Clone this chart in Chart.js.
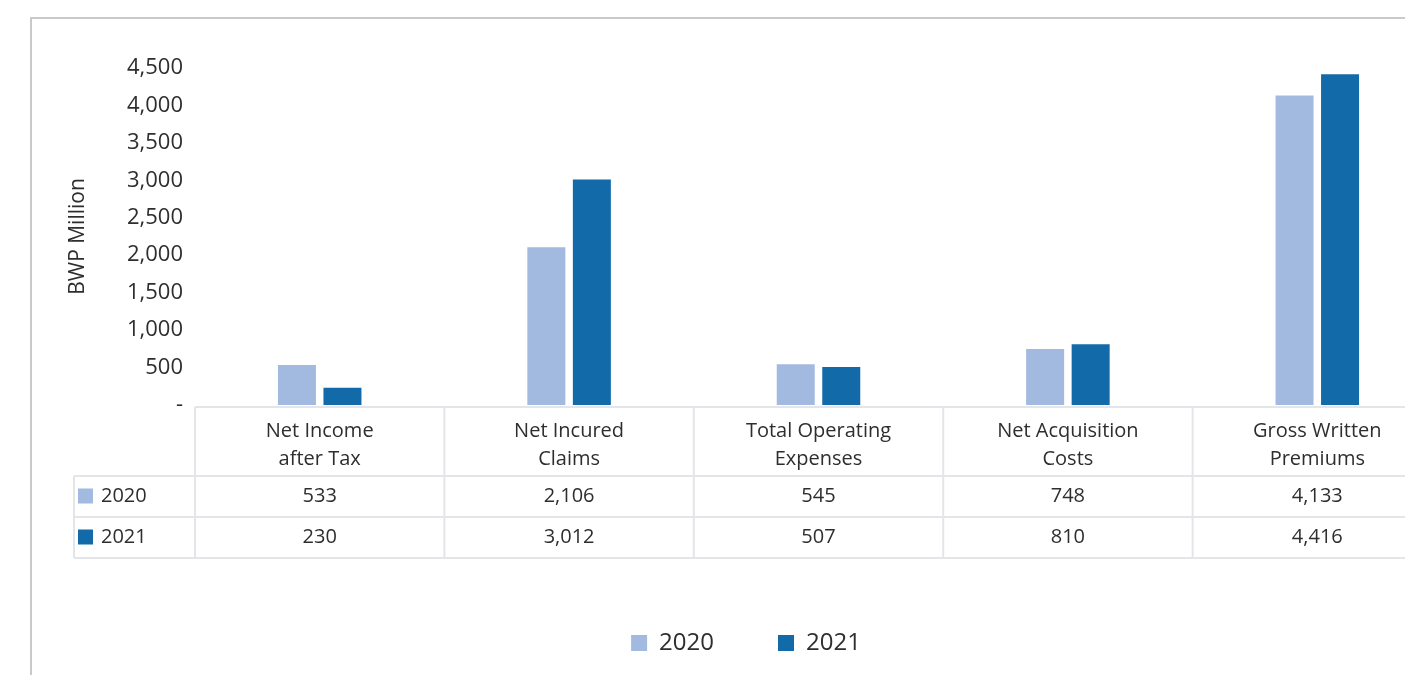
<!DOCTYPE html>
<html>
<head>
<meta charset="utf-8">
<title>Insurance results 2020 vs 2021</title>
<script src="https://cdn.jsdelivr.net/npm/chart.js@4.4.1/dist/chart.umd.min.js"></script>
<style>
  html, body { margin: 0; padding: 0; background: #fff; overflow: hidden; }
  .frame {
    position: absolute; left: 30px; top: 17px;
    width: 1430px; height: 700px;
    border-top: 2px solid #c9c9c9; border-left: 2px solid #c9c9c9;
  }
  .frame canvas { display: block; }
</style>
</head>
<body>
<div class="frame"><canvas id="chart" width="1410" height="656"></canvas></div>
<script>
// categories (two-line headers as shown in the data table)
const categories = [
  ['Net Income', 'after Tax'],
  ['Net Incured', 'Claims'],
  ['Total Operating', 'Expenses'],
  ['Net Acquisition', 'Costs'],
  ['Gross Written', 'Premiums']
];
const years = ['2020', '2021'];
const values2020 = [533, 2106, 545, 748, 4133];
const values2021 = [230, 3012, 507, 810, 4416];
const yTicks = [0, 500, 1000, 1500, 2000, 2500, 3000, 3500, 4000, 4500];

const LIGHT = '#a2badf';
const DARK = '#136aa8';
const TEXT = '#2e2e2e';
const LINE = '#e4e5e9';
const FONT = "'Open Sans', sans-serif";

const fmt = v => v.toLocaleString('en-US');

// data table under the x axis: header row with category names, one row per year
const dataTable = {
  id: 'dataTable',
  afterDraw(chart) {
    const { ctx, chartArea } = chart;
    const x = chart.scales.x;
    const colW = (chartArea.right - chartArea.left) / categories.length;
    const top = chartArea.bottom + 2;
    const headH = 69;
    const rowH = 41;
    const labelLeft = chartArea.left - 121;
    const rows = [values2020, values2021];
    const colors = [LIGHT, DARK];
    const bottom = top + headH + rowH * rows.length;

    ctx.save();
    ctx.strokeStyle = LINE;
    ctx.lineWidth = 2;

    // horizontal rules
    ctx.beginPath();
    ctx.moveTo(chartArea.left, top);
    ctx.lineTo(chart.width, top);
    for (let r = 0; r <= rows.length; r++) {
      const y = top + headH + r * rowH;
      ctx.moveTo(labelLeft, y);
      ctx.lineTo(chart.width, y);
    }
    // vertical rules at category boundaries
    categories.forEach((c, i) => {
      const bx = x.getPixelForValue(i) - colW / 2;
      ctx.moveTo(bx, top);
      ctx.lineTo(bx, bottom);
    });
    ctx.moveTo(labelLeft, top + headH);
    ctx.lineTo(labelLeft, bottom);
    ctx.stroke();

    // header labels
    ctx.fillStyle = TEXT;
    ctx.font = '20px ' + FONT;
    ctx.textAlign = 'center';
    ctx.textBaseline = 'middle';
    categories.forEach((lines, i) => {
      const cx = x.getPixelForValue(i);
      lines.forEach((t, k) => ctx.fillText(t, cx, top + 24 + k * 28));
    });

    // value rows
    rows.forEach((vals, r) => {
      const cy = top + headH + r * rowH + rowH / 2;
      vals.forEach((v, i) => ctx.fillText(fmt(v), x.getPixelForValue(i), cy));
      ctx.fillStyle = colors[r];
      ctx.fillRect(labelLeft + 4, cy - 8, 15, 15);
      ctx.fillStyle = TEXT;
      ctx.textAlign = 'left';
      ctx.fillText(years[r], labelLeft + 27, cy);
      ctx.textAlign = 'center';
    });
    ctx.restore();
  }
};

new Chart(document.getElementById('chart'), {
  type: 'bar',
  data: {
    labels: categories,
    datasets: [
      { label: years[0], data: values2020, backgroundColor: LIGHT },
      { label: years[1], data: values2021, backgroundColor: DARK }
    ]
  },
  options: {
    responsive: false,
    animation: false,
    datasets: { bar: { categoryPercentage: 0.365, barPercentage: 0.835 } },
    layout: { padding: { top: 49, right: 0, bottom: 10, left: 18 } },
    scales: {
      x: {
        grid: { display: false },
        border: { display: false },
        ticks: { display: false },
        afterFit: s => { s.height = 162; }
      },
      y: {
        min: 0,
        max: 4500,
        afterBuildTicks: s => { s.ticks = yTicks.map(v => ({ value: v })); },
        grid: { display: false },
        border: { display: false },
        ticks: {
          color: TEXT,
          font: { family: FONT, size: 22 },
          padding: 4,
          callback: v => (v === 0 ? '-' : fmt(v))
        },
        title: {
          display: true,
          text: 'BWP Million',
          color: TEXT,
          font: { family: FONT, size: 21 },
          padding: { top: 15, bottom: 0 }
        },
        afterFit: s => { s.width = 145; }
      }
    },
    plugins: {
      legend: {
        position: 'bottom',
        labels: {
          boxWidth: 16,
          boxHeight: 16,
          padding: 64,
          color: TEXT,
          font: { family: FONT, size: 24 }
        }
      },
      tooltip: { enabled: false }
    }
  },
  plugins: [dataTable]
});
</script>
</body>
</html>
